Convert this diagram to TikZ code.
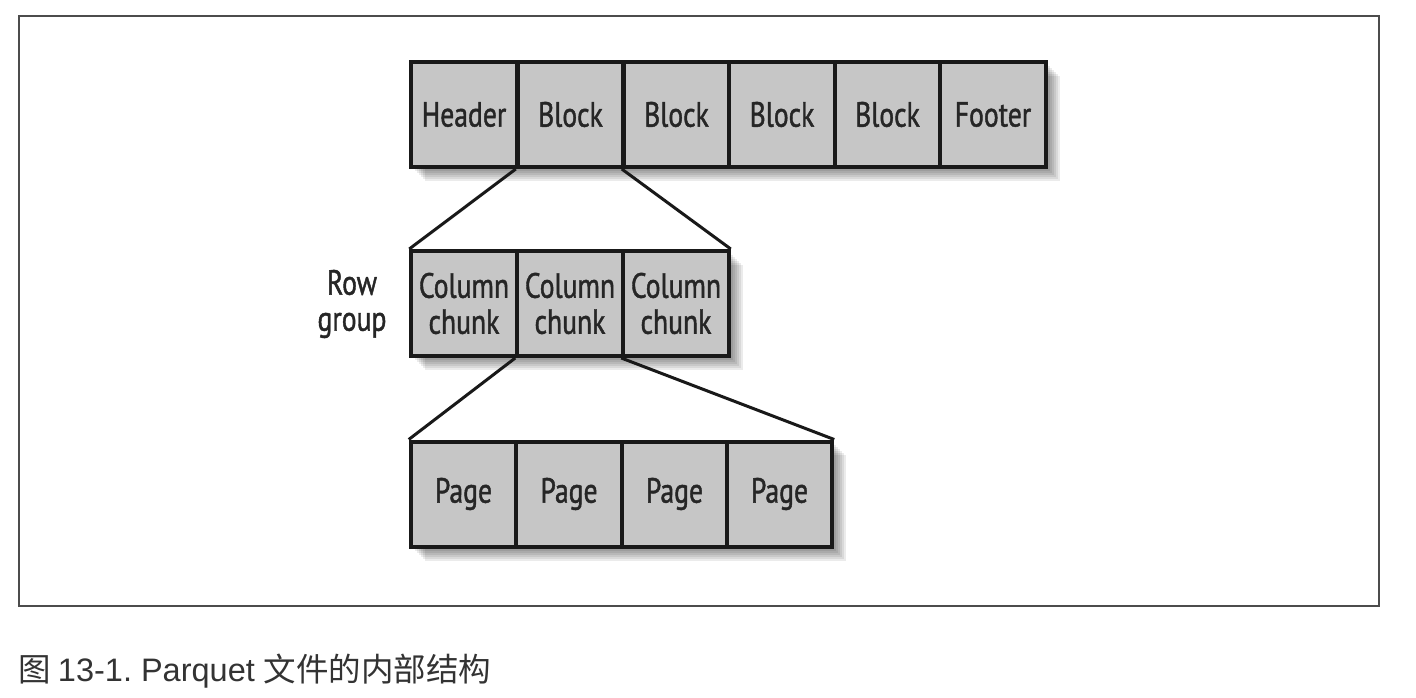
\documentclass[tikz,border=0pt]{standalone}
\usepackage{fontspec}
\setmainfont[FakeStretch=0.79,FakeBold=1.2]{PT Sans}
\newfontfamily\capcjk{Noto Sans CJK SC}
\newfontfamily\caplat{Liberation Sans}
\begin{document}
\begin{tikzpicture}[x=1pt,y=-1pt,
  cell/.style={draw=black!90, line width=4pt, fill=gray!45,
    minimum width=105.5pt, minimum height=105pt, inner sep=0pt,
    text=black!85, font=\fontsize{35}{36}\selectfont, align=center},
  link/.style={line width=3pt, draw=black!90},
  lbl/.style={text=black!85, font=\fontsize{35}{36}\selectfont, align=center, inner sep=0pt},
  shade/.style={fill=black, opacity=0.08}]
\useasboundingbox (0,0) rectangle (1416,698);
% outer frame
\draw[line width=2.5pt, draw=black!70] (19,16) rectangle (1379,606);
% shadows
\foreach \xa/\ya/\xb/\yb in {411/62/1046/167, 411/251/729/356, 411/441/832/547}
  \foreach \o in {2,4,...,14}
    \fill[shade] (\xa+\o,\ya+\o) rectangle (\xb+\o,\yb+\o);
% top row
\node[cell] (h)  at (464.0,114.5) {Header};
\node[cell] (b1) at (570.5,114.5) {Block};
\node[cell] (b2) at (676.5,114.5) {Block};
\node[cell] (b3) at (782.0,114.5) {Block};
\node[cell] (b4) at (887.5,114.5) {Block};
\node[cell] (f)  at (993.0,114.5) {Footer};
% middle row
\node[cell] (c1) at (464.0,303.5) {Column\\chunk};
\node[cell] (c2) at (570.0,303.5) {Column\\chunk};
\node[cell] (c3) at (676.0,303.5) {Column\\chunk};
\node[lbl] (rg) at (352,304) {Row\\group};
% bottom row
\node[cell] (p1) at (463.5,494) {Page};
\node[cell] (p2) at (569.0,494) {Page};
\node[cell] (p3) at (674.5,494) {Page};
\node[cell] (p4) at (779.5,494) {Page};
% connectors
\draw[link] (b1.south west) -- (c1.north west);
\draw[link] (b2.south west) -- (c3.north east);
\draw[link] (c2.south west) -- (p1.north west);
\draw[link] (c3.south west) -- (p4.north east);
% caption
\node[anchor=west, inner sep=0pt, text=black!80] (cap) at (18,671)
  {\fontsize{32.5}{35}\selectfont\capcjk 图\ \caplat 13-1.\ Parquet\ \capcjk 文件的内部结构};
\end{tikzpicture}
\end{document}
